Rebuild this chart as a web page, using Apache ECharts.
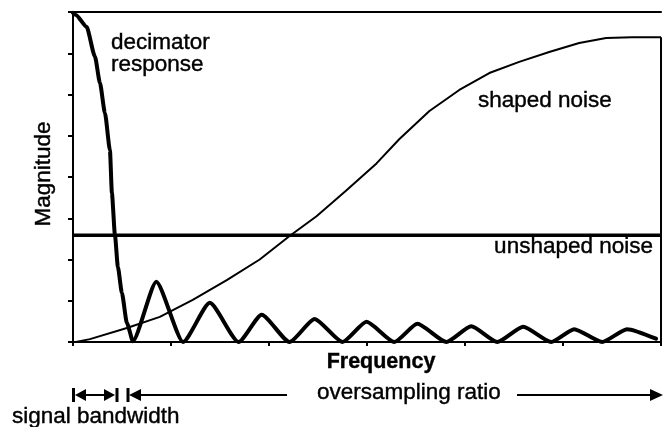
<!DOCTYPE html>
<html>
<head>
<meta charset="utf-8">
<style>
  html, body { margin: 0; padding: 0; background: #fff; }
  #chart { width: 663px; height: 427px; }
</style>
<script src="https://cdn.jsdelivr.net/npm/echarts@6/dist/echarts.min.js"></script>
</head>
<body>
<div id="chart"></div>
<script>
// Frequency positions run 0..60 (six tick intervals); magnitude runs 0..8.
var xTicks = [0, 10, 20, 30, 40, 50, 60];
var yTicks = [0, 1, 2, 3, 4, 5, 6, 7, 8];

// Decimator response: main lobe followed by decaying side lobes (zero, peak, zero, ...)
var decimatorX = [0, 0.3, 1.39, 2.24, 2.75, 3.26, 3.77, 3.97, 4.28, 4.58, 4.99, 5.5, 6.11,
                  8.5, 11.23, 13.96, 16.9, 19.25, 22.1, 24.65, 27.5, 29.95, 32.8,
                  35.14, 38.1, 40.64, 43.29, 45.94, 48.79, 51.14, 53.99, 56.53, 59.49];
var decimatorY = [7.98, 7.93, 7.64, 6.92, 6.28, 5.55, 4.65, 3.61, 2.59, 1.82, 1.19, 0.46, 0.02,
                  1.46, 0, 0.95, 0, 0.66, 0, 0.56, 0, 0.49, 0,
                  0.44, 0, 0.38, 0, 0.37, 0, 0.31, 0, 0.31, 0.08];

// Noise-shaped quantisation noise rising towards the high end of the band
var shapedX = [0.3, 1.73, 5.5, 8.86, 12.22, 15.69, 19.05, 22.1, 24.85, 27.91, 30.97,
               33.31, 36.37, 39.42, 42.48, 45.53, 48.59, 51.65, 54.4, 57.04, 60];
var shapedY = [0, 0.07, 0.34, 0.61, 1.02, 1.5, 2.0, 2.57, 3.05, 3.68, 4.33,
               4.92, 5.6, 6.11, 6.52, 6.79, 7.03, 7.25, 7.37, 7.39, 7.39];

// Flat (unshaped) noise floor
var unshapedX = [0, 60];
var unshapedY = [2.59, 2.59];

function pairs(xs, ys) {
  return xs.map(function (x, i) { return [x, ys[i]]; });
}

var FONT = '"Liberation Sans", Arial, Helvetica, sans-serif';
var chart = echarts.init(document.getElementById('chart'), null, { renderer: 'canvas' });

function txt(text, x, y, opts) {
  opts = opts || {};
  return {
    type: 'text', x: x, y: y, rotation: opts.rotation || 0, z: 10,
    style: {
      text: text, fill: '#000', font: (opts.weight || 'normal') + ' ' + (opts.size || 22.5) + 'px ' + FONT,
      align: opts.align || 'left', verticalAlign: 'middle',
      stroke: '#000', lineWidth: 0.4
    }
  };
}
function seg(x1, y1, x2, y2, w) {
  return { type: 'line', shape: { x1: x1, y1: y1, x2: x2, y2: y2 },
           style: { stroke: '#000', lineWidth: w || 2 } };
}
function tri(points) {
  return { type: 'polygon', shape: { points: points }, style: { fill: '#000' } };
}

var ay = 395; // baseline of the bandwidth / oversampling arrows

chart.setOption({
  animation: false,
  backgroundColor: '#fff',
  grid: { left: 73, right: 2, top: 12, bottom: 85, containLabel: false },
  xAxis: [{
    type: 'value', min: xTicks[0], max: xTicks[xTicks.length - 1], interval: 10,
    axisLine: { lineStyle: { color: '#000', width: 2 } },
    axisTick: { show: true, inside: false, length: 4, lineStyle: { color: '#000', width: 2 } },
    axisLabel: { show: false }, splitLine: { show: false }
  }, {
    type: 'value', position: 'top', min: 0, max: 60,
    axisLine: { show: true, lineStyle: { color: '#000', width: 2 } },
    axisTick: { show: false }, axisLabel: { show: false }, splitLine: { show: false }
  }],
  yAxis: {
    type: 'value', min: yTicks[0], max: yTicks[yTicks.length - 1], interval: 1,
    axisLine: { show: true, lineStyle: { color: '#000', width: 2 } },
    axisTick: { show: true, inside: false, length: 5, lineStyle: { color: '#000', width: 2 } },
    axisLabel: { show: false }, splitLine: { show: false }
  },
  series: [{
    name: 'unshaped noise', type: 'line', data: pairs(unshapedX, unshapedY),
    showSymbol: false, lineStyle: { color: '#000', width: 3.5 }
  }, {
    name: 'shaped noise', type: 'line', data: pairs(shapedX, shapedY), smooth: false,
    showSymbol: false, lineStyle: { color: '#000', width: 2, join: 'round' },
    markLine: {
      silent: true, symbol: 'none', label: { show: false },
      lineStyle: { color: '#000', width: 2, type: 'solid' },
      data: [[{ coord: [60, 0] }, { coord: [60, shapedY[shapedY.length - 1]] }]]
    }
  }, {
    name: 'decimator response', type: 'line', data: pairs(decimatorX, decimatorY),
    smooth: 0.2, smoothMonotone: 'x',
    showSymbol: false, lineStyle: { color: '#000', width: 4, join: 'round', cap: 'round' }
  }],
  graphic: [
    txt('decimator', 111, 43),
    txt('response', 111, 65),
    txt('shaped noise', 478, 101),
    txt('unshaped noise', 653, 247, { align: 'right' }),
    txt('Magnitude', 44, 174, { align: 'center', rotation: Math.PI / 2 }),
    txt('Frequency', 381, 362, { align: 'center', weight: 'bold', size: 21.5 }),
    txt('oversampling ratio', 317, 393),
    txt('signal bandwidth', 12, 417),
    // signal bandwidth: |<-->|
    seg(73.5, ay - 7, 73.5, ay + 7, 3),
    tri([[75, ay], [86, ay - 6], [86, ay + 6]]),
    seg(86, ay, 104, ay, 2),
    tri([[115, ay], [104, ay - 6], [104, ay + 6]]),
    seg(117, ay - 7, 117, ay + 7, 3),
    // oversampling ratio: |<----   ---->
    seg(128, ay - 7, 128, ay + 7, 3),
    tri([[129, ay], [141, ay - 6], [141, ay + 6]]),
    seg(141, ay, 287, ay, 2),
    seg(517, ay, 651, ay, 2),
    tri([[663, ay], [650, ay - 6], [650, ay + 6]])
  ]
});
</script>
</body>
</html>
